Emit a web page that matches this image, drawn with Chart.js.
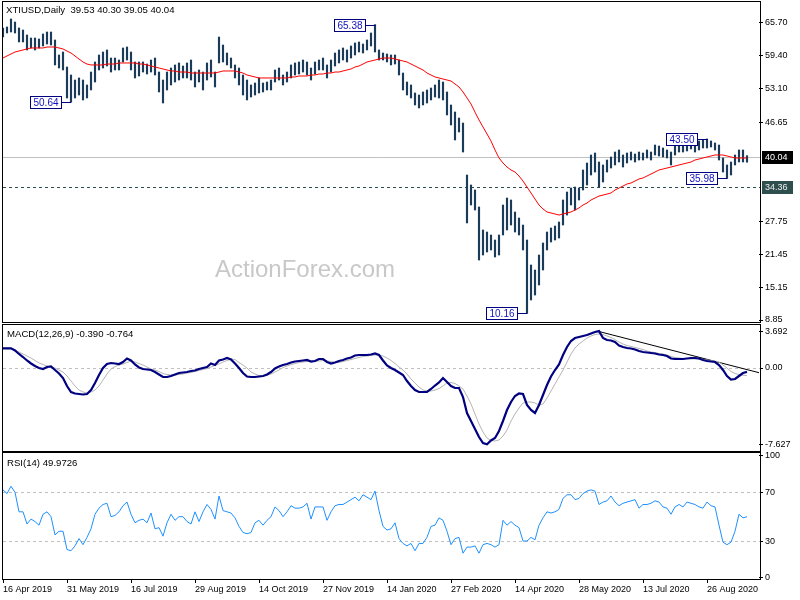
<!DOCTYPE html>
<html><head><meta charset="utf-8">
<script src="https://cdn.jsdelivr.net/npm/chart.js@4.4.1/dist/chart.umd.min.js"></script>
<style>
html,body{margin:0;padding:0;background:#fff;}
body{width:800px;height:600px;position:relative;overflow:hidden;}
canvas{position:absolute;left:0;top:0;}
</style></head>
<body>
<canvas id="cMain" width="800" height="600"></canvas>
<canvas id="cMacd" width="800" height="600"></canvas>
<canvas id="cRsi" width="800" height="600"></canvas>
<script>
// ---------------- DATA ----------------
const symbolTitle = "XTIUSD,Daily";
const lastOHLC = ["39.53", "40.30", "39.05", "40.04"];
const macdTitle = "MACD(12,26,9) -0.390 -0.764";
const rsiTitle = "RSI(14) 49.9726";
const watermark = "ActionForex.com";

const dateTickIndex = [0, 16, 32, 48, 64, 80, 96, 112, 128, 144, 160, 176];
const dateTickLabels = ["16 Apr 2019", "31 May 2019", "16 Jul 2019", "29 Aug 2019", "14 Oct 2019", "27 Nov 2019",
  "14 Jan 2020", "27 Feb 2020", "14 Apr 2020", "28 May 2020", "13 Jul 2020", "26 Aug 2020"];

const priceHigh = [
 64.74,64.93,66.46,65.88,64.74,64.35,63.40,62.82,62.82,62.63,
 63.59,63.97,63.97,62.44,59.57,60.14,57.27,55.74,54.78,55.17,
 54.78,53.83,56.31,58.23,59.57,60.14,60.53,58.99,58.99,58.61,
 60.91,61.10,60.14,58.23,58.23,58.23,57.84,58.61,58.99,56.31,
 54.78,56.31,57.08,57.66,58.04,57.46,58.04,58.61,56.31,56.70,
 56.31,58.04,58.61,56.31,63.01,61.48,59.95,58.99,57.66,57.08,
 55.74,54.78,53.83,54.21,55.17,54.21,54.40,54.78,56.70,57.08,
 55.74,56.31,57.66,58.04,58.23,58.61,58.23,57.08,58.23,58.61,
 58.99,57.66,58.61,59.95,60.53,60.91,60.53,61.29,61.87,62.06,
 61.67,62.44,63.78,65.38,60.53,59.95,59.76,59.57,59.57,58.61,
 56.12,54.40,53.83,52.30,51.91,52.49,52.87,53.25,53.83,54.78,
 54.40,52.49,50.00,48.66,47.51,46.55,36.60,34.69,33.73,30.48,
 26.08,25.69,25.12,24.16,25.12,30.86,32.20,31.82,29.52,28.37,
 27.03,24.16,19.38,18.42,21.29,23.59,25.69,26.46,26.84,27.61,
 31.82,33.35,34.11,34.30,34.11,37.56,38.90,40.43,40.81,39.09,
 38.52,39.47,40.05,41.00,41.39,40.43,40.81,41.00,40.62,41.00,
 40.81,41.39,41.00,42.34,42.15,41.77,41.39,41.00,42.73,42.34,
 42.73,42.92,43.11,42.73,43.11,43.30,43.50,43.11,42.73,42.34,
 39.86,38.52,39.09,40.43,41.39,41.39,40.30];

const priceLow = [
 63.01,63.78,63.97,63.78,62.06,62.06,60.53,60.91,60.53,60.91,
 61.29,61.67,61.48,57.66,57.08,56.70,51.34,50.64,51.34,51.91,
 50.96,51.34,52.87,54.40,56.70,57.08,57.46,56.31,56.70,56.70,
 58.23,58.61,56.70,55.17,55.55,56.31,55.93,56.31,55.74,52.49,
 50.38,52.87,53.83,54.40,54.78,55.17,55.17,54.78,53.45,54.40,
 52.87,54.78,55.36,53.45,58.04,58.23,57.66,57.08,55.17,53.83,
 51.91,50.96,51.53,51.91,52.30,52.49,52.87,52.87,54.40,54.78,
 53.83,54.40,55.17,55.74,55.93,56.31,55.74,54.78,55.93,56.70,
 56.70,55.17,56.31,57.46,58.04,58.61,58.23,58.99,59.57,60.14,
 59.95,60.53,61.29,60.14,58.61,58.61,58.23,57.66,57.84,55.74,
 52.87,51.91,51.34,50.00,49.43,50.00,50.38,50.96,51.53,51.34,
 50.96,48.09,46.17,43.30,44.83,41.00,27.42,30.86,29.90,20.33,
 21.29,21.86,22.25,20.91,21.29,25.12,26.08,27.03,25.69,25.12,
 22.25,10.16,12.68,13.63,15.55,18.42,22.25,23.78,24.16,24.54,
 27.03,28.94,30.86,29.90,31.82,33.73,34.69,36.60,37.17,34.30,
 35.26,37.17,37.94,38.52,39.09,38.13,38.90,39.47,39.09,39.47,
 39.47,39.86,39.47,40.43,40.24,40.05,39.86,38.52,40.43,41.00,
 41.00,41.20,41.58,41.00,41.39,41.77,41.77,41.96,41.39,39.47,
 37.17,35.98,36.60,38.52,39.09,39.09,39.05];

const ma55 = [
 58.99,59.38,59.76,60.14,60.33,60.53,60.72,60.91,60.91,60.91,
 60.91,61.10,61.10,61.10,60.91,60.72,60.33,59.95,59.38,58.80,
 58.23,57.84,57.66,57.66,57.66,57.66,57.84,57.84,57.84,58.04,
 58.04,58.04,58.04,58.04,57.84,57.84,57.66,57.46,57.27,57.08,
 56.89,56.70,56.51,56.51,56.31,56.31,56.31,56.12,56.12,56.12,
 56.12,56.12,56.12,56.12,56.31,56.51,56.51,56.51,56.51,56.31,
 56.12,55.74,55.55,55.36,55.17,55.17,55.17,55.17,55.17,55.17,
 55.17,55.17,55.36,55.36,55.55,55.55,55.55,55.74,55.74,55.93,
 55.93,56.12,56.12,56.31,56.31,56.51,56.70,56.89,57.27,57.46,
 57.84,58.23,58.42,58.61,58.80,58.99,58.99,58.99,58.80,58.61,
 58.42,58.23,57.84,57.46,57.08,56.70,56.12,55.74,55.36,55.17,
 54.97,54.78,54.59,54.02,53.45,52.49,51.34,50.19,48.63,47.13,
 45.79,44.45,43.11,41.39,39.86,38.90,38.13,37.56,37.17,36.41,
 35.45,34.30,33.16,32.00,30.86,30.10,29.52,29.33,29.14,28.94,
 29.14,29.33,29.52,29.90,30.29,30.86,31.24,31.82,32.19,32.58,
 32.76,32.96,33.16,33.73,34.11,34.49,34.88,35.07,35.45,35.84,
 36.03,36.41,36.79,37.17,37.56,37.75,37.94,38.13,38.32,38.52,
 38.71,38.90,39.09,39.47,39.66,39.86,40.05,40.24,40.43,40.43,
 40.43,40.24,40.05,39.86,39.86,39.86,39.86];

const macdMain = [
 1.97,1.97,1.97,1.75,1.4,1.1,0.75,0.45,0.2,0.0,
 -0.1,0.1,0.15,-0.2,-0.55,-1.0,-1.8,-2.4,-2.55,-2.6,
 -2.65,-2.6,-2.2,-1.5,-0.7,0.0,0.4,0.5,0.45,0.4,
 0.6,0.95,0.75,0.35,0.05,-0.1,-0.15,-0.2,-0.4,-0.65,
 -0.9,-0.9,-0.8,-0.65,-0.5,-0.45,-0.4,-0.3,-0.25,-0.1,
 0.0,0.1,0.45,0.3,0.75,0.85,1.0,0.85,0.45,0.0,
 -0.5,-0.85,-0.9,-0.9,-0.85,-0.8,-0.65,-0.4,-0.05,0.15,
 0.3,0.4,0.55,0.65,0.7,0.75,0.8,0.65,0.7,0.9,
 0.9,0.6,0.45,0.55,0.7,0.8,0.95,1.05,1.25,1.3,
 1.3,1.3,1.35,1.45,1.3,0.75,0.25,0.0,-0.2,-0.45,
 -0.7,-1.3,-1.8,-2.2,-2.4,-2.4,-2.4,-2.1,-1.75,-1.45,
 -1.0,-1.4,-1.8,-2.0,-2.0,-2.9,-4.5,-5.3,-6.1,-6.9,
 -7.5,-7.627,-7.25,-7.0,-6.3,-5.3,-4.2,-3.4,-2.8,-2.55,
 -2.6,-3.7,-4.2,-4.5,-3.7,-2.7,-1.7,-0.85,-0.2,0.35,
 1.3,2.1,2.7,3.0,3.1,3.2,3.3,3.45,3.6,3.692,
 3.0,2.8,2.75,2.6,2.25,2.1,2.0,1.95,1.85,1.7,
 1.6,1.55,1.5,1.45,1.35,1.3,1.2,0.95,0.9,0.9,
 0.9,0.95,1.0,1.0,0.95,0.8,0.7,0.65,0.6,0.3,
 -0.2,-0.8,-1.15,-1.1,-0.8,-0.5,-0.39];

const macdSignal = [
 2.0,2.0,2.0,1.8,1.6,1.4,1.2,1.0,0.75,0.5,
 0.35,0.2,0.1,0.0,-0.2,-0.4,-0.8,-1.3,-1.8,-2.2,
 -2.4,-2.5,-2.4,-2.2,-1.8,-1.2,-0.6,-0.1,0.15,0.3,
 0.4,0.55,0.7,0.6,0.45,0.3,0.1,-0.1,-0.2,-0.35,
 -0.55,-0.65,-0.7,-0.7,-0.65,-0.6,-0.5,-0.45,-0.35,-0.25,
 -0.15,-0.05,0.1,0.25,0.4,0.6,0.75,0.9,0.85,0.55,
 0.3,0.0,-0.4,-0.6,-0.75,-0.8,-0.75,-0.6,-0.4,-0.2,
 0.05,0.2,0.35,0.45,0.55,0.6,0.65,0.7,0.7,0.7,
 0.75,0.7,0.65,0.55,0.55,0.65,0.75,0.85,0.95,1.05,
 1.15,1.2,1.25,1.3,1.3,1.2,1.0,0.75,0.45,0.1,
 -0.2,-0.6,-1.1,-1.5,-1.9,-2.2,-2.3,-2.3,-2.2,-2.05,
 -1.8,-1.5,-1.45,-1.55,-1.8,-2.1,-2.8,-3.6,-4.6,-5.6,
 -6.4,-7.0,-7.25,-7.3,-7.2,-6.8,-6.2,-5.3,-4.6,-4.0,
 -3.5,-3.4,-3.4,-3.5,-3.7,-3.6,-3.0,-2.3,-1.6,-0.9,
 -0.2,0.6,1.4,2.0,2.4,2.7,3.0,3.2,3.35,3.4,
 3.35,3.2,3.05,2.85,2.6,2.4,2.25,2.15,2.05,1.95,
 1.85,1.7,1.6,1.55,1.45,1.4,1.3,1.15,1.05,1.0,
 0.95,0.95,0.9,0.9,0.9,0.85,0.8,0.75,0.7,0.6,
 0.3,0.0,-0.35,-0.55,-0.65,-0.72,-0.764];

const rsi14 = [
 72,69,75,70,54,54,44,48,46,43,
 52,54,50,35,38,38,23,22,26,32,
 27,33,40,52,57,60,61,50,51,54,
 59,62,52,45,47,48,45,53,40,41,
 34,45,52,47,50,50,46,44,54,46,
 54,60,56,48,67,55,54,53,49,42,
 37,36,37,45,47,43,47,50,58,55,
 50,54,59,57,57,58,61,48,58,58,
 58,47,54,59,60,60,62,64,66,63,
 68,66,64,71,55,42,39,40,45,32,
 28,26,28,22,28,28,33,42,43,49,
 47,38,27,32,33,20,25,25,26,20,
 27,28,27,25,27,47,43,46,43,41,
 30,30,33,31,43,49,54,53,54,56,
 65,68,68,64,65,69,71,72,71,60,
 62,63,67,62,59,61,62,63,64,57,
 60,60,61,63,62,58,57,52,58,60,
 58,62,61,60,58,57,62,59,58,43,
 29,27,29,38,52,49,49.97];

const currentPrice = 40.04;
const supportLevel = 34.36;
const priceAxisTicks = [65.70, 59.40, 53.10, 46.65, 27.75, 21.45, 15.15, 8.85];
const macdAxisTicks = [3.692, 0, -7.627];
const macdAxisLabels = ["3.692", "0.00", "-7.627"];
const rsiAxisTicks = [100, 70, 30, 0];
const rsiLevels = [70, 30];

const markerIndex = [93, 17, 131, 176, 181];
const markerValue = [65.38, 50.64, 10.16, 43.50, 35.98];

const trendStartIndex = 149, trendStartValue = 3.65;
const trendEndIndex = 189, trendEndValue = -0.47;

// ---------------- SETUP ----------------
const FONT = "'Liberation Sans', Arial, sans-serif";
const N_SLOTS = 190;
const slotLabels = Array.from({length: N_SLOTS}, (_, i) => String(i));
const pad = a => a.concat(Array(N_SLOTS - a.length).fill(null));
const PANEL_LEFT = 2.5, PANEL_RIGHT = 760.5;

function rightAxis(min, max, ticks, labelFn) {
  return {
    position: 'right', min, max,
    afterBuildTicks: s => { s.ticks = ticks.map(v => ({value: v})); },
    afterFit: s => { s.width = 41; s.paddingTop = 0; s.paddingBottom = 0; },
    ticks: {autoSkip: false, font: {family: FONT, size: 9}, color: '#000', padding: 2, callback: labelFn},
    grid: {drawOnChartArea: false, drawTicks: true, tickLength: 4, color: '#000', lineWidth: 1},
    border: {display: false}
  };
}
const baseOpts = (padding) => ({
  responsive: false, animation: false, events: [],
  layout: {padding},
  plugins: {legend: {display: false}, tooltip: {enabled: false}}
});
function hline(ctx, y, x0, x1, color, dash) {
  ctx.save();
  ctx.strokeStyle = color; ctx.lineWidth = 1; ctx.setLineDash(dash || []);
  const yy = Math.round(y) + 0.5;
  ctx.beginPath(); ctx.moveTo(x0, yy); ctx.lineTo(x1, yy); ctx.stroke();
  ctx.restore();
}
function border(ctx, top, bottom) {
  ctx.save(); ctx.strokeStyle = '#000'; ctx.lineWidth = 1;
  ctx.strokeRect(PANEL_LEFT, top + 0.5, PANEL_RIGHT - PANEL_LEFT, bottom - top);
  ctx.restore();
}
function label(ctx, text, x, y, size) {
  ctx.save(); ctx.font = `${size || 9.6}px ${FONT}`; ctx.fillStyle = '#000';
  ctx.textBaseline = 'middle'; ctx.textAlign = 'left'; ctx.fillText(text, x, y); ctx.restore();
}

// ---------------- MAIN PRICE PANEL ----------------
const mainPlugin = {
  id: 'mainDeco',
  beforeDatasetsDraw(chart) {
    const {ctx, chartArea: a, scales: {y}} = chart;
    ctx.save();
    ctx.font = `24px ${FONT}`; ctx.fillStyle = '#c8c8c8'; ctx.textBaseline = 'alphabetic';
    ctx.fillText(watermark, 215, 277);
    ctx.restore();
    hline(ctx, y.getPixelForValue(currentPrice), a.left, PANEL_RIGHT, '#c0c0c0');
    hline(ctx, y.getPixelForValue(supportLevel), a.left, PANEL_RIGHT, '#2f4f4f', [3, 3]);
  },
  afterDatasetsDraw(chart) {
    const {ctx, scales: {x, y}} = chart;
    ctx.save();
    ctx.font = `10px ${FONT}`;
    markerIndex.forEach((idx, k) => {
      const v = markerValue[k];
      const txt = v.toFixed(2);
      const bx = Math.round(x.getPixelForValue(idx));
      const py = Math.round(y.getPixelForValue(v)) + 0.5;
      const w = Math.ceil(ctx.measureText(txt).width) + 5, h = 12;
      const right = bx - 10, left = right - w;
      ctx.fillStyle = '#fff'; ctx.fillRect(left, py - 6, w, h);
      ctx.strokeStyle = '#000080'; ctx.lineWidth = 1;
      ctx.strokeRect(left + 0.5, py - 6, w, h);
      ctx.beginPath(); ctx.moveTo(right, py); ctx.lineTo(bx + 0.5, py); ctx.stroke();
      ctx.fillStyle = '#1010c0'; ctx.textBaseline = 'middle'; ctx.textAlign = 'center';
      ctx.fillText(txt, left + w / 2 + 0.5, py + 0.5);
    });
    ctx.restore();
  },
  afterDraw(chart) {
    const {ctx, chartArea: a, scales: {y}} = chart;
    border(ctx, 1, 322);
    label(ctx, `${symbolTitle}  ${lastOHLC.join(' ')}`, 6, 10.5);
    [[currentPrice, '#000000', '#ffffff'], [supportLevel, '#2f4f4f', '#f0f0f0']].forEach(([v, bg, fg]) => {
      const py = Math.round(y.getPixelForValue(v));
      ctx.save();
      ctx.fillStyle = bg; ctx.fillRect(762, py - 6, 31, 13);
      ctx.fillStyle = fg; ctx.font = `9px ${FONT}`; ctx.textBaseline = 'middle'; ctx.textAlign = 'left';
      ctx.fillText(v.toFixed(2), 765, py + 0.5);
      ctx.restore();
    });
  }
};

new Chart(document.getElementById('cMain'), {
  data: {
    labels: slotLabels,
    datasets: [
      {type: 'line', data: pad(ma55), borderColor: '#ff0000', borderWidth: 1, pointRadius: 0, tension: 0},
      {type: 'bar', data: pad(priceHigh.map((h, i) => [priceLow[i], h])), backgroundColor: '#1b3c58',
       barThickness: 1.5, borderWidth: 0}
    ]
  },
  options: Object.assign(baseOpts({left: 3, top: 2, right: 0, bottom: 278}), {
    scales: {
      x: {display: false, offset: false},
      y: rightAxis(8.47, 69.71, priceAxisTicks, v => Number(v).toFixed(2))
    }
  }),
  plugins: [mainPlugin]
});

// ---------------- MACD PANEL ----------------
const trendData = Array(N_SLOTS).fill(null);
trendData[trendStartIndex] = trendStartValue;
trendData[trendEndIndex] = trendEndValue;

const macdPlugin = {
  id: 'macdDeco',
  beforeDatasetsDraw(chart) {
    const {ctx, chartArea: a, scales: {y}} = chart;
    hline(ctx, y.getPixelForValue(0), a.left, PANEL_RIGHT, '#c0c0c0', [3, 3]);
  },
  afterDraw(chart) {
    border(chart.ctx, 324, 451);
    label(chart.ctx, macdTitle, 7, 334.5);
  }
};
new Chart(document.getElementById('cMacd'), {
  type: 'line',
  data: {
    labels: slotLabels,
    datasets: [
      {data: pad(macdMain), borderColor: '#000080', borderWidth: 2.2, pointRadius: 0, tension: 0},
      {data: pad(macdSignal), borderColor: '#b4b4b4', borderWidth: 1, pointRadius: 0, tension: 0},
      {data: trendData, borderColor: '#000000', borderWidth: 1, pointRadius: 0, spanGaps: true}
    ]
  },
  options: Object.assign(baseOpts({left: 3, top: 325, right: 0, bottom: 149}), {
    scales: {
      x: {display: false, offset: false},
      y: rightAxis(-8.3, 4.3, macdAxisTicks, v => macdAxisLabels[macdAxisTicks.indexOf(v)])
    }
  }),
  plugins: [macdPlugin]
});

// ---------------- RSI PANEL ----------------
const rsiPlugin = {
  id: 'rsiDeco',
  beforeDatasetsDraw(chart) {
    const {ctx, chartArea: a, scales: {y}} = chart;
    rsiLevels.forEach(l => hline(ctx, y.getPixelForValue(l), a.left, PANEL_RIGHT, '#c0c0c0', [3, 3]));
  },
  afterDraw(chart) {
    border(chart.ctx, 452, 579);
    label(chart.ctx, rsiTitle, 7, 463.5);
  }
};
new Chart(document.getElementById('cRsi'), {
  type: 'line',
  data: {
    labels: slotLabels,
    datasets: [
      {data: pad(rsi14), borderColor: '#1e90ff', borderWidth: 1, pointRadius: 0, tension: 0}
    ]
  },
  options: Object.assign(baseOpts({left: 3, top: 453, right: 0, bottom: 0}), {
    scales: {
      x: {
        offset: false,
        afterFit: s => { s.height = 21; s.paddingLeft = 0; s.paddingRight = 0; },
        ticks: {autoSkip: false, maxRotation: 0, minRotation: 0, align: 'start', padding: 1,
          font: {family: FONT, size: 9}, color: '#000',
          callback: (v, i) => { const k = dateTickIndex.indexOf(i); return k < 0 ? '' : dateTickLabels[k]; }},
        grid: {drawOnChartArea: false, drawTicks: true, tickLength: 4,
          color: c => dateTickIndex.includes(c.index) ? '#000' : 'rgba(0,0,0,0)'},
        border: {display: false}
      },
      y: rightAxis(-1.2, 102.3, rsiAxisTicks, v => String(v))
    }
  }),
  plugins: [rsiPlugin]
});
</script>
</body></html>
